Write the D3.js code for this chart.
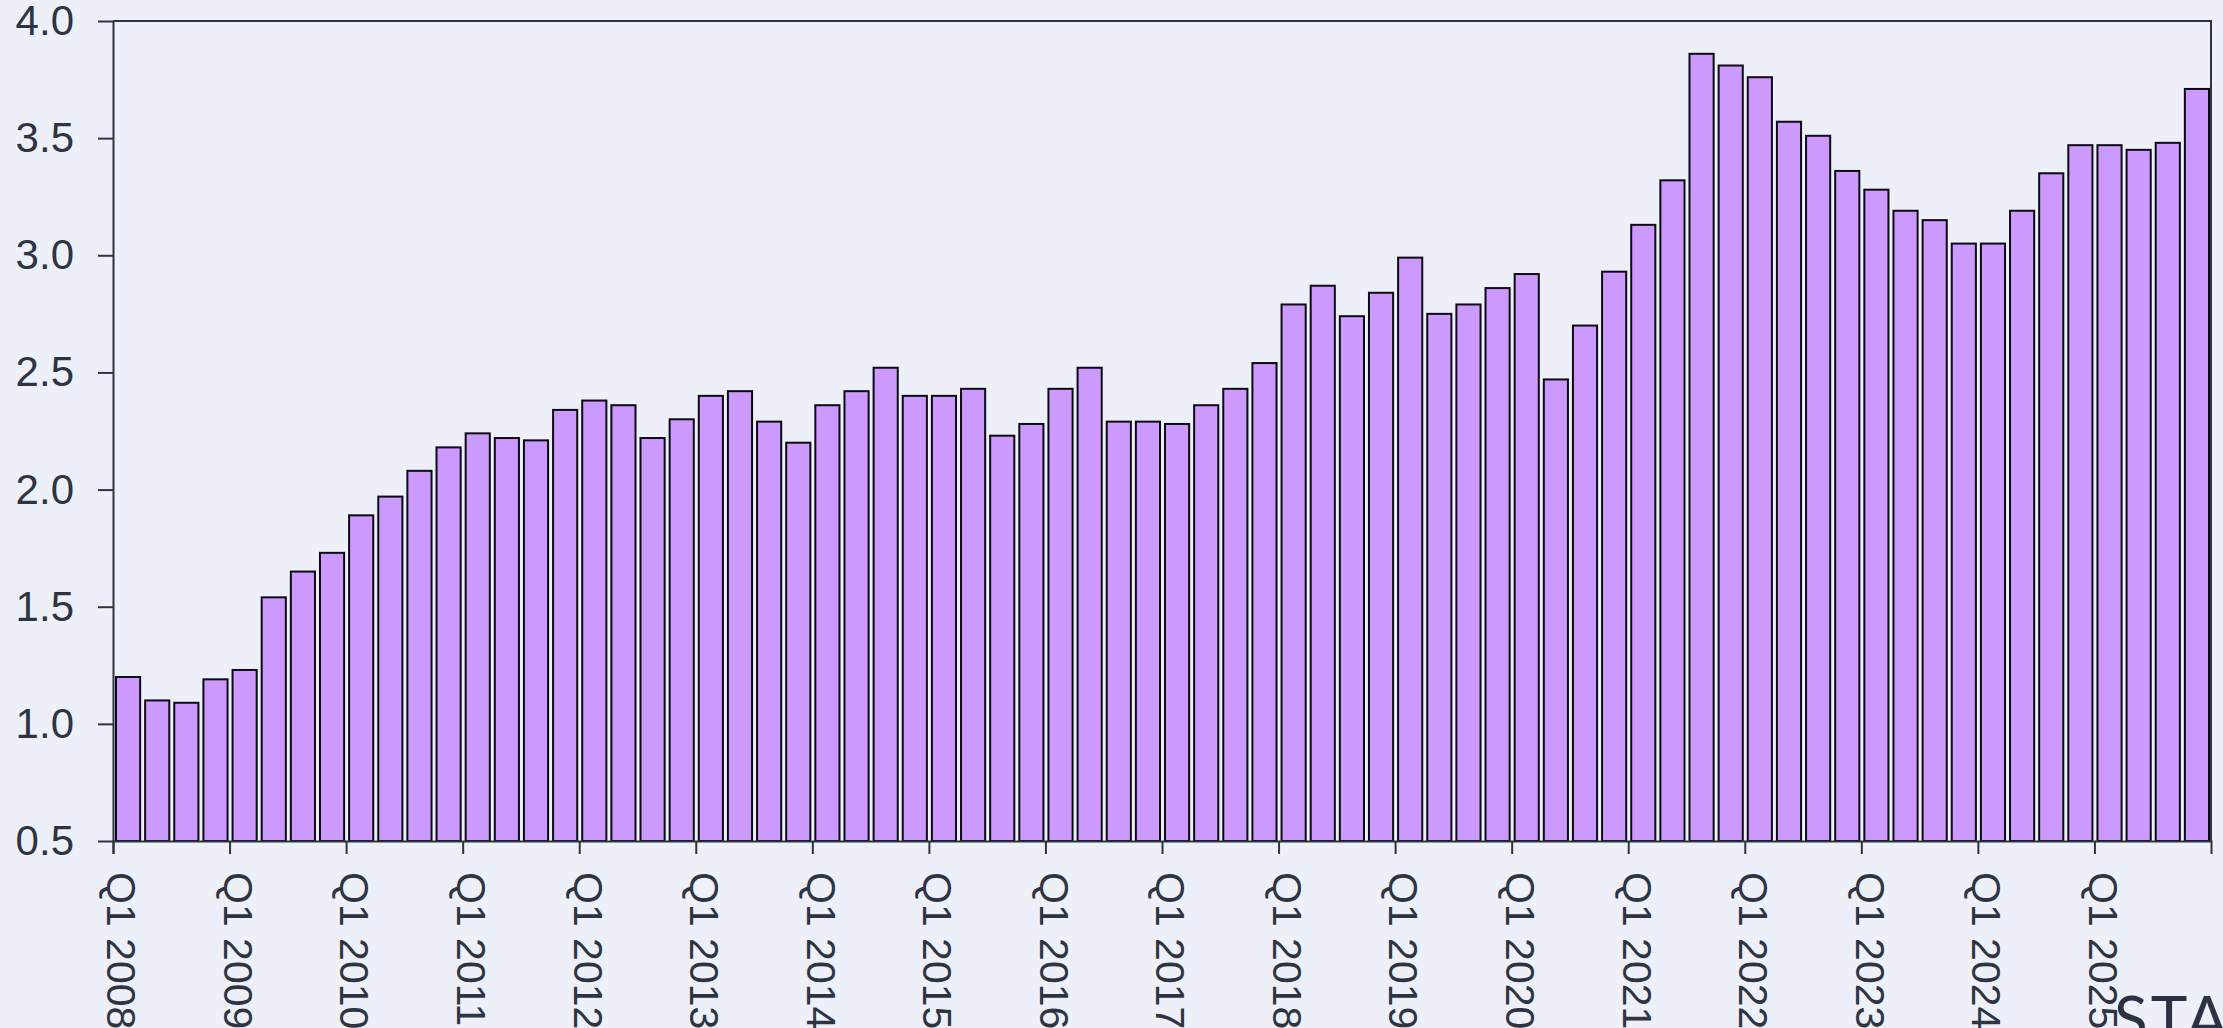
<!DOCTYPE html>
<html>
<head>
<meta charset="utf-8">
<script src="https://cdn.jsdelivr.net/npm/d3@7"></script>
<style>
  html, body { margin: 0; padding: 0; background: #edf0f9; overflow: hidden; }
  svg { display: block; }
</style>
</head>
<body>
<svg id="chart"></svg>
<script>
// Tick years (one label per Q1)
const years = [2008, 2009, 2010, 2011, 2012, 2013, 2014, 2015, 2016,
               2017, 2018, 2019, 2020, 2021, 2022, 2023, 2024, 2025];
const quarterNames = ["Q1", "Q2", "Q3", "Q4"];

// Quarterly values, Q1 2008 .. Q4 2025
const values = [
  1.20, 1.10, 1.09, 1.19,
  1.23, 1.54, 1.65, 1.73,
  1.89, 1.97, 2.08, 2.18,
  2.24, 2.22, 2.21, 2.34,
  2.38, 2.36, 2.22, 2.30,
  2.40, 2.42, 2.29, 2.20,
  2.36, 2.42, 2.52, 2.40,
  2.40, 2.43, 2.23, 2.28,
  2.43, 2.52, 2.29, 2.29,
  2.28, 2.36, 2.43, 2.54,
  2.79, 2.87, 2.74, 2.84,
  2.99, 2.75, 2.79, 2.86,
  2.92, 2.47, 2.70, 2.93,
  3.13, 3.32, 3.86, 3.81,
  3.76, 3.57, 3.51, 3.36,
  3.28, 3.19, 3.15, 3.05,
  3.05, 3.19, 3.35, 3.47,
  3.47, 3.45, 3.48, 3.71
];
const yTicks = [0.5, 1.0, 1.5, 2.0, 2.5, 3.0, 3.5, 4.0];

const data = values.map((v, i) => ({
  label: quarterNames[i % 4] + " " + years[Math.floor(i / 4)],
  t: years[0] + i / 4,
  value: v
}));

const W = 2223, H = 1028;
const margin = { top: 21, right: 12, bottom: 187, left: 113 };
const ink = "#2e3441";

const svg = d3.select("#chart")
  .attr("width", W)
  .attr("height", H);

const x = d3.scaleLinear()
  .domain([years[0], years[years.length - 1] + 1])
  .range([margin.left, W - margin.right]);

const y = d3.scaleLinear()
  .domain([0.5, 4.0])
  .range([H - margin.bottom, margin.top]);

// Bars
svg.append("g")
  .selectAll("rect")
  .data(data)
  .enter()
  .append("rect")
  .attr("x", d => x(d.t) + 3)
  .attr("width", d => x(d.t + 0.25) - x(d.t) - 5)
  .attr("y", d => y(d.value))
  .attr("height", d => y(0.5) - y(d.value))
  .attr("fill", "#cc99ff")
  .attr("stroke", "#0b0b10")
  .attr("stroke-width", 2);

// Frame on top and right
svg.append("path")
  .attr("d", `M${x.range()[0]},${y(4.0)}H${x.range()[1]}V${y(0.5)}`)
  .attr("fill", "none")
  .attr("stroke", ink)
  .attr("stroke-width", 2);

// Y axis
const yAxis = svg.append("g")
  .attr("transform", `translate(${margin.left},0)`)
  .call(d3.axisLeft(y).tickValues(yTicks).tickFormat(d3.format(".1f"))
    .tickSize(15).tickSizeOuter(0).tickPadding(24));

// X axis
const xAxis = svg.append("g")
  .attr("transform", `translate(0,${y(0.5)})`)
  .call(d3.axisBottom(x).tickValues(years).tickFormat(d => "Q1 " + d)
    .tickSize(13).tickSizeOuter(13));

[yAxis, xAxis].forEach(g => {
  g.selectAll("path, line").attr("stroke", ink).attr("stroke-width", 2);
  g.selectAll("text")
    .attr("fill", ink)
    .style("font-family", "'Liberation Sans', Arial, sans-serif")
    .style("font-size", "42px");
});

xAxis.selectAll(".tick text")
  .attr("transform", "rotate(90)")
  .attr("x", 31)
  .attr("y", 0)
  .attr("dy", "0.15em")
  .style("text-anchor", "start")
  .style("font-size", "41px");

// Watermark, cut off by the bottom right corner
svg.append("text")
  .attr("x", 2114)
  .attr("y", 1041)
  .attr("fill", "#2b3241")
  .style("font-family", "Lato, sans-serif")
  .style("font-size", "62px")
  .style("letter-spacing", "3px")
  .text("STA");
</script>
</body>
</html>
